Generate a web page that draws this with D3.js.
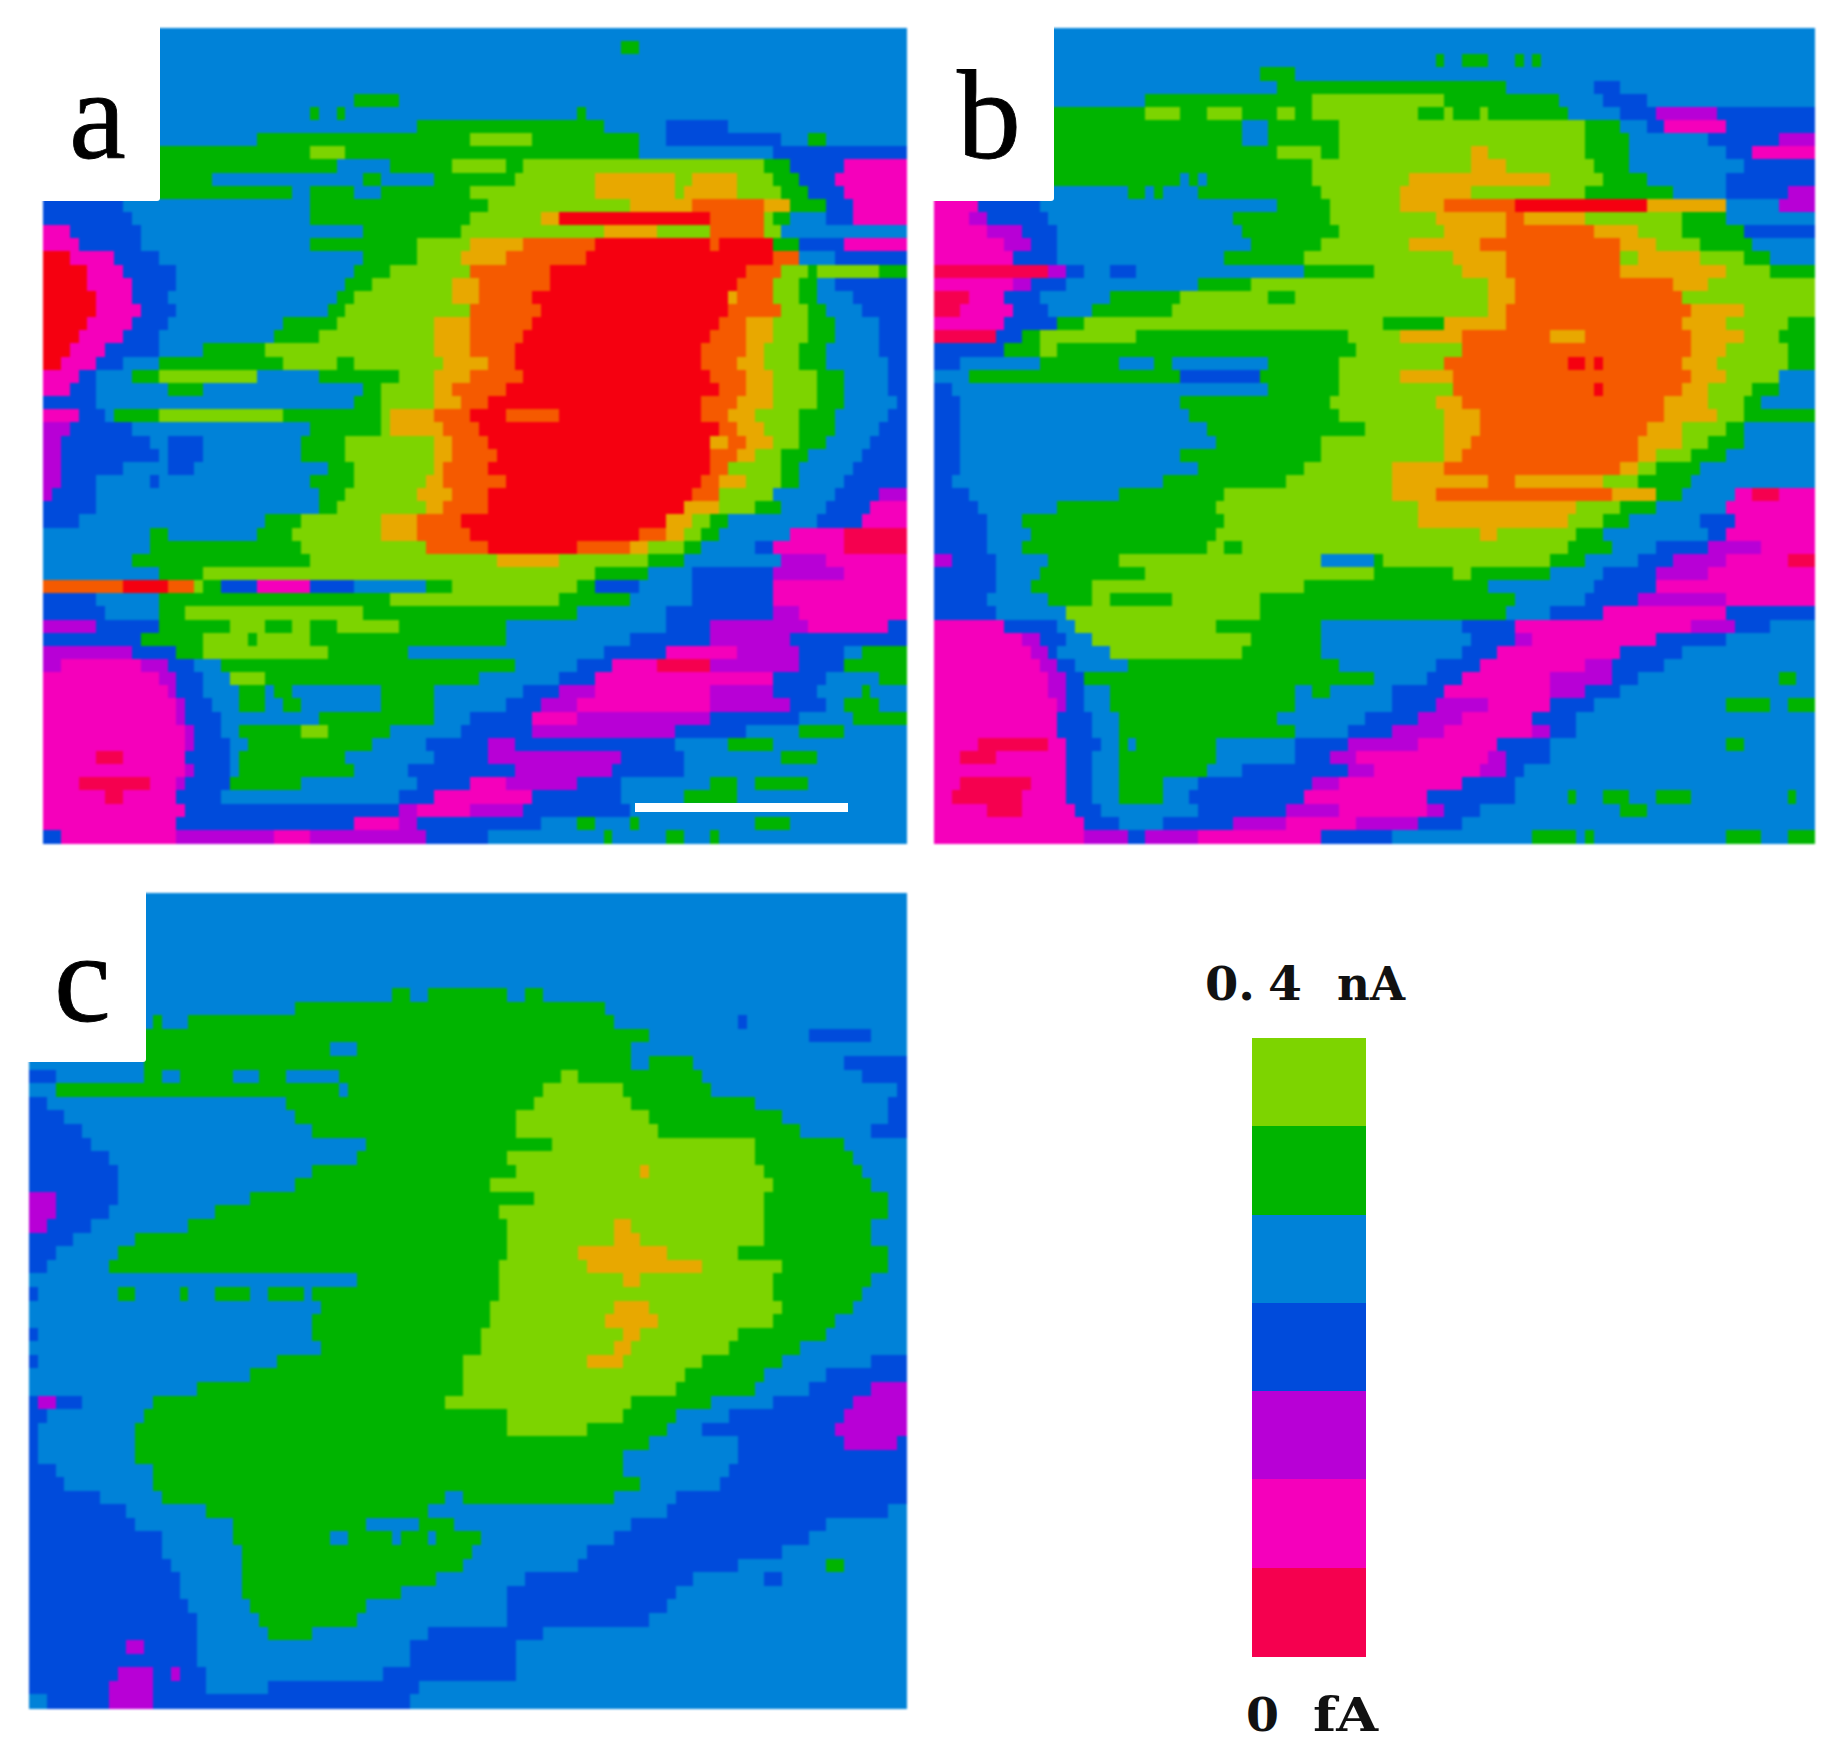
<!DOCTYPE html>
<html>
  <head>
    <meta charset="UTF-8" />
    <title>Current maps</title>
    <script src="https://d3js.org/d3.v7.min.js"></script>
    <style>
      * { margin: 0; padding: 0; box-sizing: border-box; }
      body { background: #ffffff; }
      svg { display: block; }
      .cell { shape-rendering: crispEdges; }
      .panel-label { font-family: "Liberation Serif", serif; font-size: 128px; fill: #000; stroke: #000; stroke-width: 0.8; }
      .bar-label { font-family: "DejaVu Serif", serif; font-weight: bold; font-size: 46px; fill: #111; }
    </style>
  </head>
  <body>
    <svg id="chart" width="1840" height="1755"></svg>
    <script>
      // current levels, low to high; each row below is "level + end column" runs
      const levels = ["r", "m", "p", "d", "b", "g", "l", "y", "o", "R"];
      const levelColors = ["#f5004f", "#f500bb", "#b800d6", "#004bdb", "#0082d8", "#00b400", "#7dd400", "#e8a800", "#f55a00", "#f50010"];
      const legendLevels = ["l", "g", "b", "d", "p", "m", "r"];
      const legendTop = ["0.", "4", "nA"];
      const legendBottom = ["0", "fA"];

      const rowsA = [
        "b97", "b65 g67 b97", "b97", "b97", "b97", "b35 g40 b97",
        "b30 g31 b33 g34 b60 g61 b97",
        "b42 g63 b70 d77 b97",
        "b24 g48 l55 g67 b70 d83 b86 g88 b97",
        "g30 l34 g67 b82 d97",
        "g33 b39 g46 l52 g54 l81 g84 d90 m97",
        "g19 b36 g38 b44 g53 l62 y71 l73 y78 l82 g85 d89 m97",
        "g28 b30 g35 b38 g48 l62 y71 l72 y78 l83 g86 d90 m97",
        "d9 b30 g50 l66 y73 o81 y84 g88 d91 m97",
        "d10 b30 g48 l56 y58 R75 o81 l82 g84 b88 d91 m97",
        "m3 d11 b36 g47 l63 y69 l75 o81 l83 b97",
        "m4 d11 b30 g42 l48 y54 o62 R75 o76 R82 g85 d90 m97",
        "R3 m8 d13 b36 g42 l47 y52 o61 R82 o85 b89 d97",
        "R5 m9 d15 b35 g39 l48 o57 R79 o83 l86 g87 l94 g97",
        "R5 m10 d15 b34 g37 l46 y49 o57 R78 o82 l85 g87 b89 d97",
        "R6 m10 d14 b33 g35 l46 y49 o55 R77 y78 o82 l85 g87 b91 d97",
        "R6 m11 d15 b32 g34 l48 o56 R77 o83 l86 g88 b92 d97",
        "R5 m10 d14 b27 g33 l44 y48 o55 R76 o79 y82 l86 g89 b94 d97",
        "R4 m9 d13 b26 g31 l44 y48 o54 R75 o79 y82 l86 g89 b94 d97",
        "R3 m7 d13 b18 g25 l44 y48 o53 R74 o79 y81 l85 g88 b94 d97",
        "R2 m6 d9 b13 g27 l33 g35 l45 y50 o53 R74 o78 y81 l85 g88 b95 d97",
        "m4 d6 b10 g13 l24 b31 g40 l44 y48 o54 R75 o79 y82 l87 g90 b95 d97",
        "m3 d6 b14 g18 b36 g38 l44 y46 o52 R76 o79 y82 l87 g90 b95 d97",
        "d6 b35 g38 l44 y47 o50 R74 o78 y82 l87 g90 b96 d97",
        "m4 d7 b8 g13 l27 g38 l39 y44 o48 R52 o58 R74 o77 y80 l85 g89 b95 d97",
        "p3 d10 b30 g38 l39 y45 o49 R76 o78 y81 l85 g89 b94 d97",
        "p2 d12 b14 d18 b29 g34 l44 y46 o50 R75 y77 o79 y82 l85 g88 b93 d97",
        "p2 d13 b14 d18 b29 g34 l44 y46 o51 R75 o78 y80 l83 g86 b92 d97",
        "p2 d9 b14 d17 b32 g35 l44 y45 o50 R75 o77 l83 g85 b91 d97",
        "p2 d6 b12 d13 b30 g35 l43 y45 o52 R74 o76 y79 l83 g85 b90 d97",
        "p1 d6 b31 g34 l42 y46 o50 R73 o76 l82 b89 d94 p97",
        "d6 b31 g33 l43 y45 o50 R72 y76 l80 g83 b88 d93 m97",
        "d4 b25 g29 l38 y42 o47 R70 y73 l75 g77 b87 d92 m97",
        "b12 g14 b24 g28 l38 y42 o48 R67 o70 y72 l74 g76 b84 m90 r97",
        "b12 g29 l43 o50 R60 o66 y68 l72 g74 b80 d82 m90 r97",
        "b10 g30 l51 y58 l68 g72 b83 p88 m97",
        "b13 g18 l62 g68 b73 d82 p90 m97",
        "o9 R14 o17 l18 g20 d24 m30 d35 b43 g46 l60 g62 d67 b73 d82 m97",
        "d6 b13 g39 l58 g66 b73 d82 m97",
        "d7 b13 g16 l36 g60 b70 d82 p85 m97",
        "p6 d13 g21 l25 g28 l30 g33 l40 g52 b70 d75 p86 m95 d97",
        "d11 g18 l23 g24 l30 g52 b66 d75 p84 d97",
        "p10 d15 g18 l32 g41 b63 d70 m78 p85 d90 b92 g97",
        "p2 m11 p14 d17 b20 g53 b60 d64 m69 r75 p85 d90 g97",
        "m13 p15 d18 b21 l25 g49 b58 d62 m82 d88 b94 g97",
        "m14 p15 d18 b22 g25 b26 g28 b38 g44 b54 d58 p62 m75 p82 d87 b92 g93 b97",
        "m15 p16 d19 b22 g25 b27 g29 b38 g44 b52 d56 p60 m75 p84 d88 b90 g94 b97",
        "m15 p16 d20 b31 g44 b48 d55 m60 p75 d85 b91 g97",
        "m16 p17 d20 b22 g29 l32 g39 b47 d55 p71 d79 b85 g90 b97",
        "m16 p17 d21 b23 g37 b43 d50 p53 d71 b77 g82 b97",
        "m6 r9 m16 d21 b22 g34 b44 d50 p65 d72 b83 g87 b97",
        "m16 p17 d21 b22 g35 b41 d53 p64 d72 b97",
        "m4 r12 m15 p16 d21 g29 b42 d48 m52 p60 d65 b75 g78 b80 g86 b97",
        "m7 r9 m15 d20 b40 d44 m55 d65 b72 g78 b97",
        "m16 d40 p42 m48 p54 d66 b97",
        "m15 d35 m40 p42 d56 b60 g62 b66 g67 b80 g84 b97",
        "d2 m15 p26 m30 p43 d50 b63 g64 b70 g72 b75 g76 b97"
      ];

      const rowsB = [
        "b100", "b100",
        "b57 g58 b60 g63 b66 g67 b68 g69 b100",
        "b37 g41 b100",
        "b39 g65 b75 d78 b100",
        "b24 g43 l58 g71 b76 d81 b100",
        "g24 l28 g31 l35 g39 l41 g43 l55 g58 l59 g62 l63 g72 b78 d82 p89 d100",
        "g35 b38 g46 l74 g78 b81 d83 m90 d100",
        "g35 b38 g46 l74 g79 b88 d96 p100",
        "g39 l44 g46 l61 y63 l74 g79 b90 d93 m100",
        "g43 l61 y65 l75 g79 b92 d100",
        "g28 b29 g30 b31 g43 l54 y70 l76 g81 b90 d100",
        "b22 g24 b25 g26 b30 g44 l53 y61 l74 g84 b90 d97 p100",
        "m5 d12 b39 g45 l53 y58 o66 R81 y90 b96 p100",
        "m4 p6 d13 b34 g45 l57 y65 o67 y74 l85 g90 b100",
        "m6 p10 d14 b35 g46 l58 y65 o75 y80 l85 g92 d100",
        "m8 p11 d14 b36 g44 l54 y62 o78 y82 l87 g93 b100",
        "m9 d14 b33 g42 l59 y65 o78 l80 y87 l92 g95 b100",
        "r13 p15 d17 b20 d23 b42 g50 l60 y65 o78 y90 l95 g100",
        "m9 p11 d15 b30 g36 l63 y66 o84 y88 l100",
        "r4 m8 d12 b20 g28 l38 g41 l63 y66 o85 l100",
        "r3 m9 d13 b18 g27 l63 y65 o86 y92 l100",
        "m8 d14 g17 l51 g58 y65 o85 y90 l97 g100",
        "r7 d10 g12 l23 g47 l53 y60 o70 y74 o86 y92 l96 g100",
        "d8 g12 l14 g48 l60 o86 y90 l97 g100",
        "d3 b12 g21 b25 g27 b38 g46 l58 o72 R74 o75 R76 o85 y89 l97 g100",
        "b4 g28 d37 g46 l53 y59 o86 y90 l96 b100",
        "d2 b29 b38 g46 l59 o75 R76 o85 y88 l93 g96 b100",
        "d3 b28 g45 l57 y60 o83 y88 l92 g94 b100",
        "d3 b29 g46 l58 y62 o83 y89 l92 g100",
        "d3 b31 g49 l58 y62 o81 y85 l90 g92 b100",
        "d3 b32 g44 l58 y61 o80 y85 l88 g92 b100",
        "d3 b28 g44 l58 y60 o80 y82 l86 g90 b100",
        "d3 b30 g42 l52 y58 o78 y80 l82 g87 b100",
        "d2 b26 g40 l52 y63 o66 y76 l80 g86 b100",
        "d4 b21 g33 l52 y57 o77 y82 g85 b91 m93 r96 m100",
        "d5 b14 g32 l55 y73 l78 g82 b90 m100",
        "d6 b10 g33 l55 y60 y72 l76 g79 b87 d91 m100",
        "d6 b11 g32 l62 y64 l73 g76 b88 d90 m100",
        "d6 b10 g31 l33 g35 l72 g77 b82 d88 p94 m100",
        "p2 d7 b13 g21 l44 b50 g51 l70 g74 b80 d84 p90 m97 r100",
        "d7 b12 g24 l50 g59 l61 g70 b76 d82 p88 m100",
        "d7 b11 g18 l28 l42 g63 b75 d82 m100",
        "d6 b13 g18 l20 g27 l37 g66 b74 d80 p90 m100",
        "d7 b15 l37 g65 b70 d76 m90 d100",
        "m8 d14 b16 l32 g44 b60 d66 m86 p91 d95 b100",
        "m10 p12 d15 b18 l36 g44 b61 d66 p68 m82 d90 b100",
        "m11 p13 d14 b20 l35 g44 b60 d64 m78 d85 b100",
        "m12 p14 d16 b22 g46 b57 d62 m74 p77 d83 b100",
        "m13 p15 d17 g50 b56 d60 m70 p77 d80 b96 g98 b100",
        "m13 p15 d17 b20 g41 b43 g45 b52 d58 m70 p74 d78 b100",
        "m14 p15 d17 b20 g41 b52 d57 p63 m70 d75 b90 g95 b97 g100",
        "m14 d18 b21 g39 b49 d55 p60 m68 d73 b100",
        "m14 d18 b21 g41 b47 d52 p58 m68 p70 d73 b100",
        "m5 r13 m15 d19 b21 g22 b23 g32 b41 d47 p55 m64 d70 b90 g92 b100",
        "m3 r7 m15 d18 b21 g32 b41 d45 p48 m63 p65 d70 b100",
        "m15 d18 b21 g31 b35 d47 p50 m62 p65 d67 b100",
        "m3 r11 m15 d18 b21 g26 b30 d43 p46 m60 d66 b100",
        "m2 r10 m15 d18 b21 g26 b29 d42 m56 d66 b72 g73 b76 g79 b82 g86 b97 g98 b100",
        "m6 r10 m16 d19 b30 d40 p46 m56 p58 d62 b78 g81 b100",
        "m17 d21 b26 d34 p40 m48 p55 d60 b100",
        "m17 p22 d24 p30 m44 d52 b68 g73 b74 g75 b90 g94 b97 g100"
      ];

      const rowsC = [
        "b99", "b99", "b99", "b99", "b99", "b99", "b99",
        "b41 g43 b45 g54 b56 g58 b99",
        "b30 g65 b99",
        "b14 g15 b18 g66 b80 d81 b99",
        "g70 b88 d95 b99",
        "g34 b37 g68 b99",
        "b13 g68 b70 g75 b92 d99",
        "d3 b13 g15 b17 g23 b26 g29 b35 g60 l62 g76 b94 d99",
        "b3 g35 b36 g58 l67 g77 b98 d99",
        "d2 b29 g57 l68 g82 b97 d99",
        "d4 b30 g55 l70 g85 b97 d99",
        "d6 b32 g55 l71 g87 b95 d99",
        "d7 b31 b38 g57 g59 l82 g92 b99",
        "d9 b37 g54 l82 g93 b99",
        "d10 b32 g55 l69 y70 l83 g94 b99",
        "d10 b30 g52 l84 g95 b99",
        "p3 d10 b25 g57 l83 g97 b99",
        "p3 d9 b21 g53 l83 g97 b99",
        "p2 d7 b18 g54 l66 y68 l83 g95 b99",
        "d5 b12 g54 l66 y69 l83 g95 b99",
        "d3 b10 g54 l62 y72 l80 g97 b99",
        "d2 b9 g53 l63 y76 l85 g97 b99",
        "b37 g53 l67 y69 l84 g95 b99",
        "d1 b10 g12 b17 g18 b21 g25 b27 g31 b32 g53 l84 g94 b99",
        "b33 g52 l66 y70 l85 g93 b99",
        "b32 g52 l65 y71 l84 g91 b99",
        "d1 b32 g51 l67 y69 l80 g90 b99",
        "b33 g51 l66 y68 l79 g87 b99",
        "d1 b28 g49 l63 y67 l76 g85 b95 d99",
        "b25 g49 l74 g83 b90 d99",
        "b19 g49 l73 g82 b88 d95 p99",
        "d1 p3 d6 b14 g47 l68 g77 b84 d93 p99",
        "d2 b13 g54 l67 g73 b79 d92 p99",
        "d1 b12 g54 l63 g72 b76 d91 p99",
        "d1 b12 g70 b80 d92 p98 d99",
        "d1 b12 g67 b80 d99",
        "d3 b14 g67 b79 d99",
        "d4 b14 g69 b78 d99",
        "d8 b15 g47 b49 g66 b73 d99",
        "d11 b20 g45 b72 d97 b99",
        "d12 b23 g38 b44 g48 b68 d90 b99",
        "d15 b23 g34 b36 g41 b42 g45 b46 g51 b66 d88 b99",
        "d15 b24 g50 b63 d85 b99",
        "d16 b24 g49 b62 d80 b90 g92 b99",
        "d17 b24 g46 b56 d75 b83 d85 b99",
        "d17 b24 g42 b54 d73 b99",
        "d18 b25 g38 b54 d72 b99",
        "d19 b26 g37 b54 d70 b99",
        "d19 b27 g32 b45 d58 b99",
        "d11 p13 d19 b43 d55 b99",
        "d19 b43 d55 b99",
        "d10 p14 d16 p17 d20 b40 d55 b99",
        "d9 p14 d20 b27 d44 b99",
        "b2 d9 p14 d43 b99"
      ];

      const svg = d3.select("#chart");
      const color = d3.scaleOrdinal(levels, levelColors);

      // soften the cell edges a little, the source image is a resampled bitmap
      svg.append("defs").append("filter")
        .attr("id", "soft")
        .attr("color-interpolation-filters", "sRGB")
        .append("feGaussianBlur").attr("stdDeviation", 1.3);

      function parseRow(row) {
        let start = 0;
        return row.split(" ").map((tok) => {
          const end = +tok.slice(1);
          const run = { level: tok[0], start: start, end: end };
          start = end;
          return run;
        });
      }

      function drawPanel(rows, box) {
        const cols = d3.max(rows, (r) => +r.split(" ").pop().slice(1));
        const x = d3.scaleLinear().domain([0, cols]).range([box.x0, box.x1]);
        const y = d3.scaleBand().domain(d3.range(rows.length)).range([box.y0, box.y1]);
        const g = svg.append("g").attr("filter", "url(#soft)");

        rows.forEach((row, i) => {
          g.selectAll(null)
            .data(parseRow(row))
            .join("rect")
            .attr("class", "cell")
            .attr("x", (d) => x(d.start))
            .attr("y", y(i))
            .attr("width", (d) => x(d.end) - x(d.start) + 0.5)
            .attr("height", y.bandwidth() + 0.5)
            .attr("fill", (d) => color(d.level));
        });

        // white corner that holds the panel letter
        svg.append("rect")
          .attr("x", box.x0 - 4)
          .attr("y", box.y0 - 4)
          .attr("width", box.notchX - box.x0 + 4)
          .attr("height", box.notchY - box.y0 + 4)
          .attr("rx", 3)
          .attr("fill", "#fff");

        svg.append("text")
          .attr("class", "panel-label")
          .attr("x", box.labelX)
          .attr("y", box.labelY)
          .text(box.label);
      }

      drawPanel(rowsA, { x0: 43, x1: 906, y0: 28, y1: 843, notchX: 160, notchY: 201, label: "a", labelX: 69, labelY: 158 });
      drawPanel(rowsB, { x0: 934, x1: 1814, y0: 28, y1: 843, notchX: 1054, notchY: 201, label: "b", labelX: 957, labelY: 158 });
      drawPanel(rowsC, { x0: 29, x1: 906, y0: 893, y1: 1708, notchX: 146, notchY: 1062, label: "c", labelX: 54, labelY: 1021 });

      // scale bar on panel a
      svg.append("rect")
        .attr("x", 635).attr("y", 803)
        .attr("width", 213).attr("height", 9)
        .attr("fill", "#fff");

      // colour bar
      const barY = d3.scaleBand().domain(legendLevels).range([1038, 1656]);
      svg.selectAll(".legend")
        .data(legendLevels)
        .join("rect")
        .attr("class", "legend cell")
        .attr("x", 1252)
        .attr("y", (d) => barY(d))
        .attr("width", 114)
        .attr("height", barY.bandwidth() + 0.5)
        .attr("fill", (d) => color(d));

      // colour bar captions, the words sit in wide gaps like the original
      const topX = [1205, 1268, 1337];
      const topLen = [50, 34, 68];
      svg.selectAll(".cap-top")
        .data(legendTop)
        .join("text")
        .attr("class", "bar-label cap-top")
        .attr("x", (d, i) => topX[i])
        .attr("y", 1000)
        .attr("textLength", (d, i) => topLen[i])
        .attr("lengthAdjust", "spacingAndGlyphs")
        .text((d) => d);

      const bottomX = [1246, 1313];
      const bottomLen = [33, 65];
      svg.selectAll(".cap-bottom")
        .data(legendBottom)
        .join("text")
        .attr("class", "bar-label cap-bottom")
        .attr("x", (d, i) => bottomX[i])
        .attr("y", 1731)
        .attr("textLength", (d, i) => bottomLen[i])
        .attr("lengthAdjust", "spacingAndGlyphs")
        .text((d) => d);
    </script>
  </body>
</html>
